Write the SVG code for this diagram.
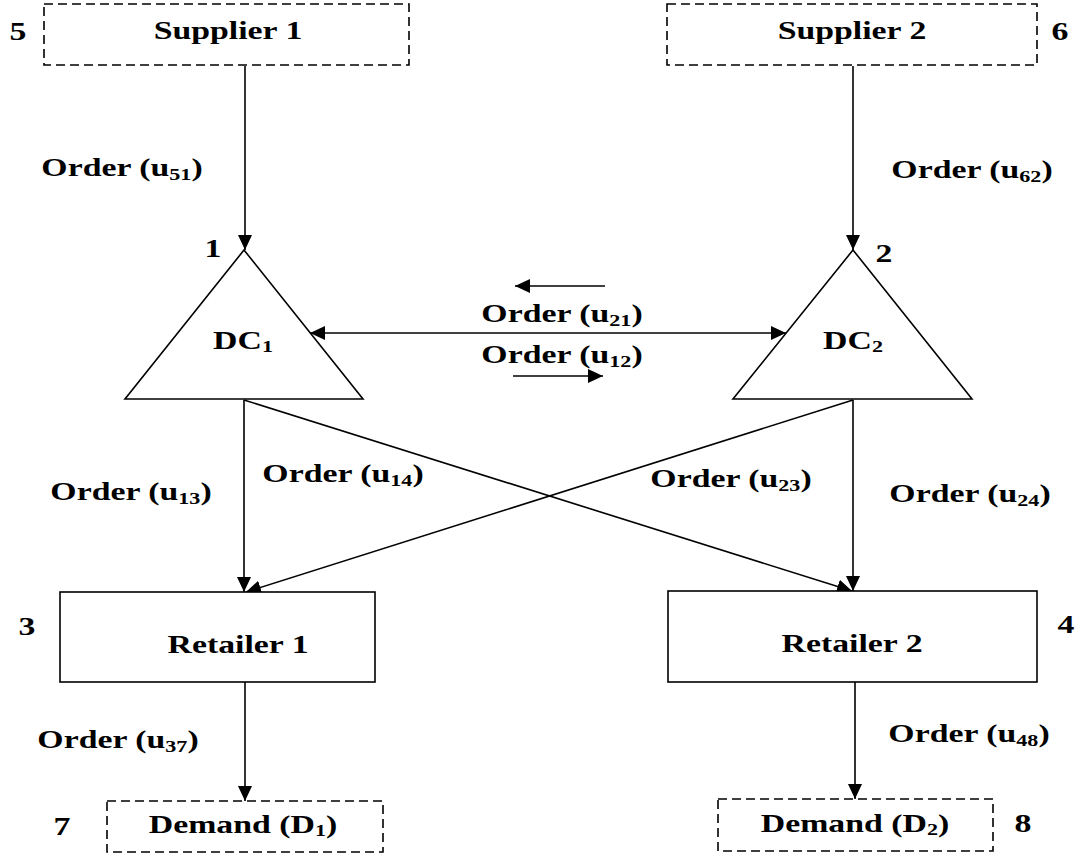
<svg xmlns="http://www.w3.org/2000/svg" width="1080" height="862" viewBox="0 0 1080 862">
  <style>
    text { font-family: "Liberation Serif", "Times New Roman", serif; font-weight: bold; font-size: 26px; fill: #000; text-anchor: middle; }
    .sub { font-size: 17px; }
    .box { fill: #fff; stroke: #000; stroke-width: 1.6; }
    .dash { fill: #fff; stroke: #000; stroke-width: 1.6; stroke-dasharray: 9 5; }
    .edge { fill: none; stroke: #000; stroke-width: 1.6; }
  </style>
  <defs>
    <marker id="ah" markerUnits="userSpaceOnUse" markerWidth="16" markerHeight="16" viewBox="0 0 16 16" refX="15" refY="8" orient="auto-start-reverse">
      <path d="M0,1 L15,8 L0,15 Z" fill="#000"/>
    </marker>
  </defs>
  <rect width="1080" height="862" fill="#fff"/>

  <!-- flows between nodes -->
  <g id="connectors">
    <line class="edge" x1="245" y1="66" x2="245" y2="250" marker-end="url(#ah)"/>
    <line class="edge" x1="853" y1="66" x2="853" y2="250" marker-end="url(#ah)"/>
    <line class="edge" x1="310" y1="333" x2="786" y2="333" marker-start="url(#ah)" marker-end="url(#ah)"/>
    <line class="edge" x1="605" y1="286" x2="515" y2="286" marker-end="url(#ah)"/>
    <line class="edge" x1="513" y1="376" x2="603" y2="376" marker-end="url(#ah)"/>
    <line class="edge" x1="244" y1="400" x2="244" y2="592" marker-end="url(#ah)"/>
    <line class="edge" x1="244" y1="400" x2="852" y2="591" marker-end="url(#ah)"/>
    <line class="edge" x1="853" y1="400" x2="246" y2="592" marker-end="url(#ah)"/>
    <line class="edge" x1="853" y1="400" x2="853" y2="591" marker-end="url(#ah)"/>
    <line class="edge" x1="245" y1="682" x2="245" y2="801" marker-end="url(#ah)"/>
    <line class="edge" x1="855" y1="682" x2="855" y2="799" marker-end="url(#ah)"/>
  </g>

  <!-- flow labels -->
  <g id="labels">
    <text transform="translate(122,176) scale(1.3,1)">Order (u<tspan class="sub" dy="4">51</tspan><tspan dy="-4">)</tspan></text>
    <text transform="translate(972,178) scale(1.3,1)">Order (u<tspan class="sub" dy="4">62</tspan><tspan dy="-4">)</tspan></text>
    <text transform="translate(562,322) scale(1.3,1)">Order (u<tspan class="sub" dy="4">21</tspan><tspan dy="-4">)</tspan></text>
    <text transform="translate(562,363) scale(1.3,1)">Order (u<tspan class="sub" dy="4">12</tspan><tspan dy="-4">)</tspan></text>
    <text transform="translate(131,500) scale(1.3,1)">Order (u<tspan class="sub" dy="4">13</tspan><tspan dy="-4">)</tspan></text>
    <text transform="translate(343,482) scale(1.3,1)">Order (u<tspan class="sub" dy="4">14</tspan><tspan dy="-4">)</tspan></text>
    <text transform="translate(731,487) scale(1.3,1)">Order (u<tspan class="sub" dy="4">23</tspan><tspan dy="-4">)</tspan></text>
    <text transform="translate(970,502) scale(1.3,1)">Order (u<tspan class="sub" dy="4">24</tspan><tspan dy="-4">)</tspan></text>
    <text transform="translate(118,748) scale(1.3,1)">Order (u<tspan class="sub" dy="4">37</tspan><tspan dy="-4">)</tspan></text>
    <text transform="translate(969,742) scale(1.3,1)">Order (u<tspan class="sub" dy="4">48</tspan><tspan dy="-4">)</tspan></text>
  </g>

  <g id="supplier1">
    <rect class="dash" x="44" y="4" width="365" height="61"/>
    <text transform="translate(228,39) scale(1.3,1)">Supplier 1</text>
    <text transform="translate(18,40) scale(1.3,1)">5</text>
  </g>
  <g id="supplier2">
    <rect class="dash" x="667" y="4" width="370" height="61"/>
    <text transform="translate(852,39) scale(1.3,1)">Supplier 2</text>
    <text transform="translate(1060,40) scale(1.3,1)">6</text>
  </g>
  <g id="dc1">
    <polygon class="box" points="244,250 125,399 363,399"/>
    <text transform="translate(243,349) scale(1.3,1)">DC<tspan class="sub" dy="3">1</tspan></text>
    <text transform="translate(213,257) scale(1.3,1)">1</text>
  </g>
  <g id="dc2">
    <polygon class="box" points="853,250 733,399 972,399"/>
    <text transform="translate(853,349) scale(1.3,1)">DC<tspan class="sub" dy="3">2</tspan></text>
    <text transform="translate(884,262) scale(1.3,1)">2</text>
  </g>
  <g id="retailer1">
    <rect class="box" x="60" y="592" width="315" height="90"/>
    <text transform="translate(238,653) scale(1.3,1)">Retailer 1</text>
    <text transform="translate(27,635) scale(1.3,1)">3</text>
  </g>
  <g id="retailer2">
    <rect class="box" x="668" y="591" width="369" height="91"/>
    <text transform="translate(852,652) scale(1.3,1)">Retailer 2</text>
    <text transform="translate(1066,633) scale(1.3,1)">4</text>
  </g>
  <g id="demand1">
    <rect class="dash" x="107" y="801" width="276" height="51"/>
    <text transform="translate(243,833) scale(1.3,1)">Demand (D<tspan class="sub" dy="3">1</tspan><tspan dy="-3">)</tspan></text>
    <text transform="translate(62,835) scale(1.3,1)">7</text>
  </g>
  <g id="demand2">
    <rect class="dash" x="718" y="799" width="275" height="52"/>
    <text transform="translate(855,832) scale(1.3,1)">Demand (D<tspan class="sub" dy="3">2</tspan><tspan dy="-3">)</tspan></text>
    <text transform="translate(1023,832) scale(1.3,1)">8</text>
  </g>
</svg>
